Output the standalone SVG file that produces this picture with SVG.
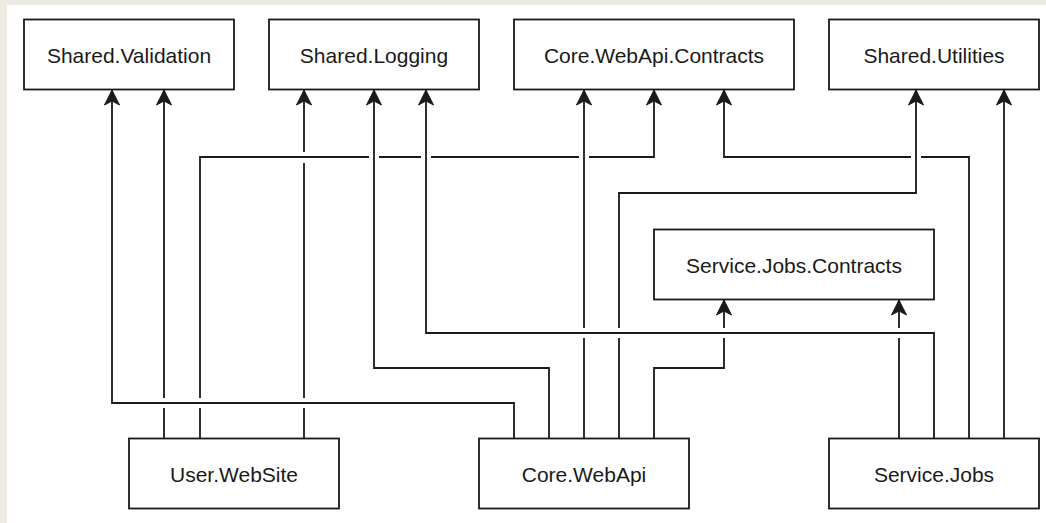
<svg xmlns="http://www.w3.org/2000/svg" width="1046" height="523" viewBox="0 0 1046 523">
  <style>
    .box { fill: #ffffff; stroke: #1a1a1a; stroke-width: 1.8; }
    .label { font-family: "Liberation Sans", Arial, sans-serif; font-size: 21px; fill: #1a1a1a; text-anchor: middle; }
    .edge { fill: none; stroke: #1a1a1a; stroke-width: 1.8; marker-end: url(#arrow); }
  </style>
  <defs>
    <marker id="arrow" markerUnits="userSpaceOnUse" orient="auto" refX="0" refY="0" markerWidth="20" markerHeight="20" overflow="visible">
      <path d="M0,0 L-15,-7.5 L-11,0 L-15,7.5 Z" fill="#1a1a1a" stroke="#1a1a1a" stroke-width="1"/>
    </marker>
  </defs>

  <!-- page -->
  <rect x="0" y="0" width="1046" height="523" fill="#eeebe4"/>
  <rect x="7" y="5" width="1039" height="518" fill="#ffffff"/>

  <!-- dependency connectors (gaps mark line jumps) -->
  <g id="connectors">
    <path class="edge" d="M164,438 V408 M164,398 V90"/>
    <path class="edge" d="M200,438 V408 M200,398 V157 H369 M379,157 H421 M431,157 H579 M589,157 H654 V90"/>
    <path class="edge" d="M304,438 V408 M304,398 V163 M304,152 V90"/>
    <path class="edge" d="M514,438 V403 H112 V90"/>
    <path class="edge" d="M549,438 V368 H374 V90"/>
    <path class="edge" d="M934,438 V333 H426 V90"/>
    <path class="edge" d="M584,438 V338 M584,328 V90"/>
    <path class="edge" d="M619,438 V338 M619,328 V193 H916 V90"/>
    <path class="edge" d="M654,438 V368 H724 V338 M724,328 V300"/>
    <path class="edge" d="M899,438 V338 M899,328 V300"/>
    <path class="edge" d="M969,438 V157 H921 M911,157 H724 V90"/>
    <path class="edge" d="M1004,438 V90"/>
  </g>

  <g id="shared-validation">
    <rect class="box" x="24" y="19.5" width="210" height="70"/>
    <text class="label" x="129" y="63">Shared.Validation</text>
  </g>
  <g id="shared-logging">
    <rect class="box" x="269" y="19.5" width="210" height="70"/>
    <text class="label" x="374" y="63">Shared.Logging</text>
  </g>
  <g id="core-webapi-contracts">
    <rect class="box" x="514" y="19.5" width="280" height="70"/>
    <text class="label" x="654" y="63">Core.WebApi.Contracts</text>
  </g>
  <g id="shared-utilities">
    <rect class="box" x="829" y="19.5" width="210" height="70"/>
    <text class="label" x="934" y="63">Shared.Utilities</text>
  </g>
  <g id="service-jobs-contracts">
    <rect class="box" x="654" y="229.5" width="280" height="70"/>
    <text class="label" x="794" y="273">Service.Jobs.Contracts</text>
  </g>
  <g id="user-website">
    <rect class="box" x="129" y="438.5" width="210" height="70"/>
    <text class="label" x="234" y="482">User.WebSite</text>
  </g>
  <g id="core-webapi">
    <rect class="box" x="479" y="438.5" width="210" height="70"/>
    <text class="label" x="584" y="482">Core.WebApi</text>
  </g>
  <g id="service-jobs">
    <rect class="box" x="829" y="438.5" width="210" height="70"/>
    <text class="label" x="934" y="482">Service.Jobs</text>
  </g>
</svg>
